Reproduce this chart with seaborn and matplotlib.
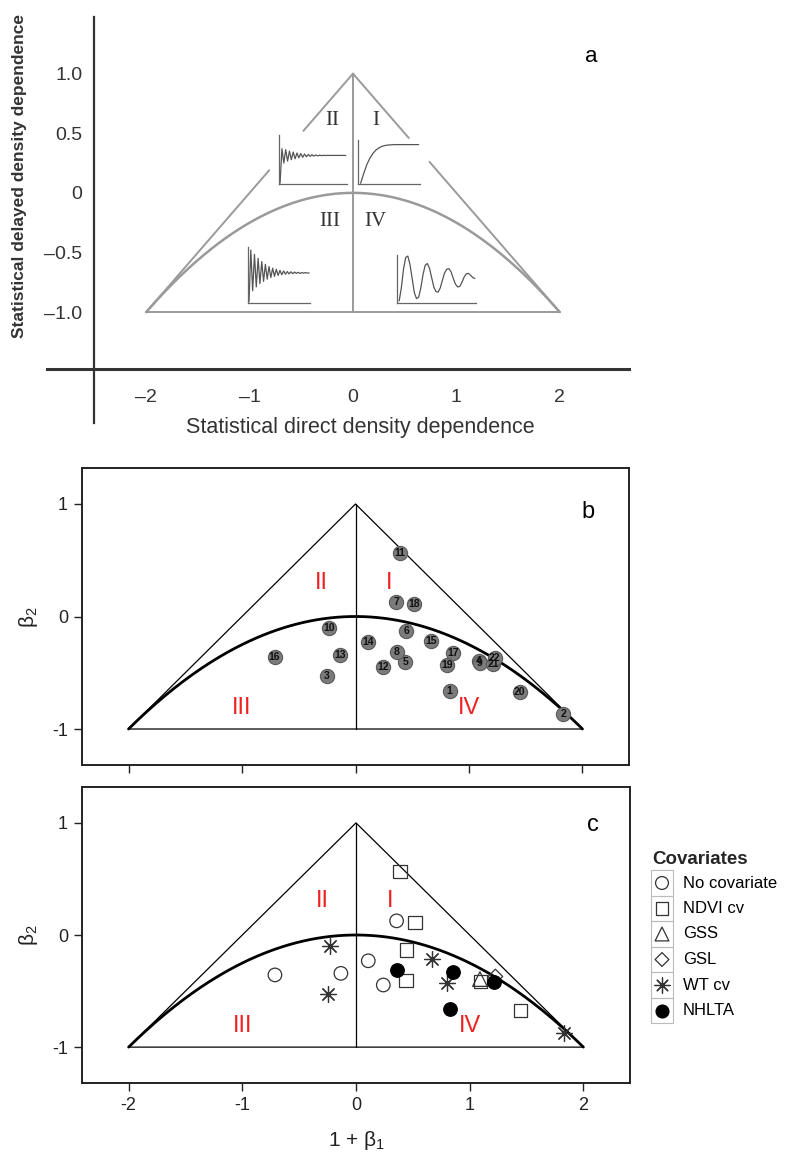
import numpy as np
import matplotlib.pyplot as plt
import seaborn as sns
from matplotlib.patches import Rectangle

sns.set_theme(style="white")
plt.rcParams['font.family'] = ['Liberation Sans', 'DejaVu Sans']
plt.rcParams['axes.unicode_minus'] = False
plt.rcParams['mathtext.fontset'] = 'custom'
plt.rcParams['mathtext.rm'] = 'Liberation Sans'
plt.rcParams['mathtext.it'] = 'Liberation Sans:italic'

# ---- data: 22 models, direct (1 + beta1) and delayed (beta2) density dependence
model_id = list(range(1, 23))
one_plus_b1 = [0.83, 1.83, -0.25, 1.09, 0.44, 0.445, 0.357, 0.365, 1.095, -0.23, 0.389,
               0.24, -0.133, 0.108, 0.665, -0.713, 0.857, 0.518, 0.804, 1.446, 1.212, 1.226]
beta2 = [-0.66, -0.87, -0.525, -0.393, -0.405, -0.132, 0.126, -0.313, -0.414, -0.10, 0.565,
         -0.446, -0.342, -0.23, -0.217, -0.356, -0.327, 0.112, -0.428, -0.674, -0.418, -0.37]
covariate = ['NHLTA', 'WT cv', 'WT cv', 'GSS', 'NDVI cv', 'NDVI cv', 'No covariate', 'NHLTA',
             'NDVI cv', 'WT cv', 'NDVI cv', 'No covariate', 'No covariate', 'No covariate',
             'WT cv', 'No covariate', 'NHLTA', 'NDVI cv', 'WT cv', 'NDVI cv', 'NHLTA', 'GSL']
cov_order = ['No covariate', 'NDVI cv', 'GSS', 'GSL', 'WT cv', 'NHLTA']

dyn_I = [0.0, 0.22, 0.42, 0.57, 0.68, 0.76, 0.81, 0.845, 0.865, 0.875, 0.88, 0.885,
         0.885, 0.885, 0.885, 0.885, 0.885, 0.885, 0.885, 0.885]
dyn_II = [0.0, 0.72, 0.42, 0.70, 0.46, 0.67, 0.49, 0.65, 0.51, 0.63, 0.53, 0.62, 0.54,
          0.61, 0.55, 0.60, 0.56, 0.595, 0.565, 0.59, 0.57, 0.585, 0.575, 0.582, 0.578,
          0.58, 0.58, 0.58, 0.58, 0.58, 0.58, 0.58, 0.58, 0.58, 0.58, 0.58]
dyn_III = [0.0, 0.94, 0.20, 0.86, 0.27, 0.79, 0.33, 0.73, 0.37, 0.68, 0.41, 0.64, 0.44,
           0.61, 0.46, 0.59, 0.48, 0.57, 0.49, 0.56, 0.50, 0.55, 0.505, 0.545, 0.51, 0.54,
           0.515, 0.535, 0.515, 0.53, 0.52, 0.53, 0.52, 0.525]
dyn_IV = [0.02, 0.3, 0.7, 0.95, 0.98, 0.8, 0.5, 0.2, 0.07, 0.1, 0.3, 0.58, 0.78, 0.82,
          0.72, 0.52, 0.32, 0.22, 0.21, 0.3, 0.47, 0.62, 0.7, 0.71, 0.64, 0.5, 0.38, 0.32,
          0.33, 0.42, 0.53, 0.6, 0.61, 0.57, 0.52, 0.5]

# triangle geometry
tri_x = [-2, 0, 2, -2]
tri_y = [-1, 1, -1, -1]
par_x = np.linspace(-2, 2, 201)
par_y = -par_x ** 2 / 4  # boundary between real and complex roots

W, H = 794, 1153
fig = plt.figure(figsize=(W / 100, H / 100), dpi=100)


def frac(l, t, r, b):
    return [l / W, 1 - b / H, (r - l) / W, (b - t) / H]


# ================= panel a =================
ax_a = fig.add_axes(frac(47, 17, 629, 423))
ax_a.set_xlim(-2.96, 2.67)
ax_a.set_ylim(-1.93, 1.475)
ax_a.set_facecolor('none')
for s in ['top', 'right']:
    ax_a.spines[s].set_visible(False)
ax_a.spines['left'].set_position(('data', -2.51))
ax_a.spines['bottom'].set_position(('data', -1.48))
ax_a.spines['left'].set_color('#333333')
ax_a.spines['bottom'].set_color('#333333')
ax_a.spines['left'].set_linewidth(1.6)
ax_a.spines['bottom'].set_linewidth(2.2)
ax_a.set_xticks([-2, -1, 0, 1, 2])
ax_a.set_xticklabels(['–2', '–1', '0', '1', '2'], fontsize=14, color='#333333')
ax_a.set_yticks([1, 0.5, 0, -0.5, -1])
ax_a.set_yticklabels(['1.0', '0.5', '0', '–0.5', '–1.0'], fontsize=14, color='#333333')
ax_a.tick_params(axis='x', length=0, pad=14)
ax_a.tick_params(axis='y', length=0, pad=8)

gray = '#9a9a9a'
sns.lineplot(x=[-2, 2], y=[-1, -1], ax=ax_a, color=gray, lw=1.4)
sns.lineplot(x=[0, 0], y=[-1, 1], ax=ax_a, color=gray, lw=1.4, estimator=None, sort=False)
# triangle sides, broken where the insets sit
for xs, ys in [([-2, -0.81], [-1, 0.19]), ([-0.48, 0], [0.52, 1]),
               ([0, 0.54], [1, 0.46]), ([0.74, 2], [0.26, -1])]:
    sns.lineplot(x=xs, y=ys, ax=ax_a, color=gray, lw=1.4)
sns.lineplot(x=par_x, y=par_y, ax=ax_a, color=gray, lw=1.8)

serif = ['Liberation Serif', 'DejaVu Serif']
for txt, x, y in [('II', -0.205, 0.61), ('I', 0.22, 0.61), ('III', -0.22, -0.243), ('IV', 0.22, -0.243)]:
    ax_a.text(x, y, txt, ha='center', va='center', fontsize=15, family=serif, color='#333333')
ax_a.text(2.3, 1.14, 'a', fontsize=16, ha='center', va='center', color='black')

insets = [(dyn_II, [-0.72, 0.073, 0.66, 0.41]),
          (dyn_I, [0.05, 0.073, 0.60, 0.374]),
          (dyn_III, [-1.02, -0.922, 0.604, 0.47]),
          (dyn_IV, [0.43, -0.922, 0.76, 0.40])]
for series, bounds in insets:
    ia = ax_a.inset_axes(bounds, transform=ax_a.transData)
    t = np.arange(len(series))
    sns.lineplot(x=t, y=series, ax=ia, color='#555555', lw=0.9)
    ia.set_xlim(-0.8, len(series) - 0.5)
    ia.set_ylim(-0.02, 1.0)
    ia.set_facecolor('none')
    for s in ['top', 'right']:
        ia.spines[s].set_visible(False)
    for s in ['left', 'bottom']:
        ia.spines[s].set_color('#666666')
        ia.spines[s].set_linewidth(0.9)
    ia.set_xticks(np.linspace(0, len(series) - 1, 5))
    ia.set_yticks([0.2, 0.4, 0.6, 0.8])
    ia.tick_params(length=1.5, width=0.5, direction='in', colors='#666666',
                   labelbottom=False, labelleft=False)

fig.text(20 / W, 1 - 176 / H, 'Statistical delayed density dependence', rotation=90,
         ha='center', va='center', fontsize=12.5, fontweight='bold', color='#333333')
fig.text(360 / W, 1 - 427 / H, 'Statistical direct density dependence',
         ha='center', va='center', fontsize=15.5, color='#333333')


# ================= panels b and c =================
red = '#ee2222'


def draw_frame(ax):
    ax.set_xlim(-2.41, 2.41)
    ax.set_ylim(-1.32, 1.32)
    sns.lineplot(x=tri_x, y=tri_y, ax=ax, color='black', lw=0.9, estimator=None, sort=False)
    sns.lineplot(x=[0, 0], y=[-1, 1], ax=ax, color='black', lw=0.9, estimator=None, sort=False)
    sns.lineplot(x=par_x, y=par_y, ax=ax, color='black', lw=2.0)
    for txt, x, y in [('II', -0.3, 0.3), ('I', 0.3, 0.3), ('III', -1.0, -0.81), ('IV', 1.0, -0.81)]:
        ax.text(x, y, txt, ha='center', va='center', fontsize=17, color=red)
    for s in ax.spines.values():
        s.set_color('#222222')
        s.set_linewidth(1.4)
    ax.set_xticks([-2, -1, 0, 1, 2])
    ax.set_yticks([-1, 0, 1])
    ax.tick_params(direction='out', length=6, width=1, color='#222222',
                   labelsize=13, labelcolor='#222222', bottom=True, left=True, pad=4)
    ax.set_xlabel('')
    ax.set_ylabel('')


ax_b = fig.add_axes(frac(82, 468, 629, 765))
draw_frame(ax_b)
ax_b.tick_params(labelbottom=False)
sns.scatterplot(x=one_plus_b1, y=beta2, ax=ax_b, s=105, color='#7b7b7b',
                edgecolor='#5a5a5a', linewidth=0.8, legend=False, zorder=3)
for m, x, y in zip(model_id, one_plus_b1, beta2):
    ax_b.text(x, y, str(m), ha='center', va='center', fontsize=7.5, fontweight='bold',
              color='#111111', zorder=4)
ax_b.text(2.05, 0.93, 'b', fontsize=17, ha='center', va='center', color='black')

ax_c = fig.add_axes(frac(82, 787, 630, 1083))
draw_frame(ax_c)
styles = {
    'No covariate': dict(marker='o', s=95, facecolor='none', edgecolor='#333333', linewidth=0.9),
    'NDVI cv': dict(marker='s', s=95, facecolor='none', edgecolor='#333333', linewidth=0.9),
    'GSS': dict(marker='^', s=110, facecolor='none', edgecolor='#333333', linewidth=0.9),
    'GSL': dict(marker='D', s=55, facecolor='none', edgecolor='#333333', linewidth=0.9),
    'WT cv': dict(marker=(8, 2, 0), s=130, color='#333333', linewidth=0.9),
    'NHLTA': dict(marker='o', s=95, facecolor='black', edgecolor='black', linewidth=0.9),
}
for name in cov_order:
    xs = [x for x, c in zip(one_plus_b1, covariate) if c == name]
    ys = [y for y, c in zip(beta2, covariate) if c == name]
    kw = dict(styles[name])
    if 'color' not in kw:
        kw['color'] = kw['edgecolor']
    sns.scatterplot(x=xs, y=ys, ax=ax_c, legend=False, zorder=3, **kw)
ax_c.text(2.08, 0.98, 'c', fontsize=17, ha='center', va='center', color='black')

fig.text(29 / W, 1 - 617 / H, r'$\mathrm{\beta}_2$', rotation=90, ha='center', va='center',
         fontsize=15, color='#222222')
fig.text(29 / W, 1 - 935 / H, r'$\mathrm{\beta}_2$', rotation=90, ha='center', va='center',
         fontsize=15, color='#222222')
fig.text(356 / W, 1 - 1140 / H, r'1 + $\mathrm{\beta}_1$', ha='center', va='center',
         fontsize=15, color='#222222')

# ================= legend =================
ax_l = fig.add_axes(frac(645, 845, 794, 1030))
ax_l.set_xlim(645, 794)
ax_l.set_ylim(1030, 845)
ax_l.axis('off')
ax_l.text(652, 860, 'Covariates', fontsize=13.5, fontweight='bold', ha='left', va='center')
row_y = [883, 908.5, 934, 959.5, 985, 1010.5]
for name, ry in zip(cov_order, row_y):
    ax_l.add_patch(Rectangle((651, ry - 12.7), 22, 25.4, facecolor='none',
                             edgecolor='#bbbbbb', lw=0.8))
    kw = dict(styles[name])
    if 'color' not in kw:
        kw['color'] = kw['edgecolor']
    kw['s'] = kw['s'] * 0.9
    sns.scatterplot(x=[662], y=[ry], ax=ax_l, legend=False, **kw)
    ax_l.text(683, ry, name, fontsize=12, ha='left', va='center', color='black')

fig.savefig('out.png', dpi=100)
